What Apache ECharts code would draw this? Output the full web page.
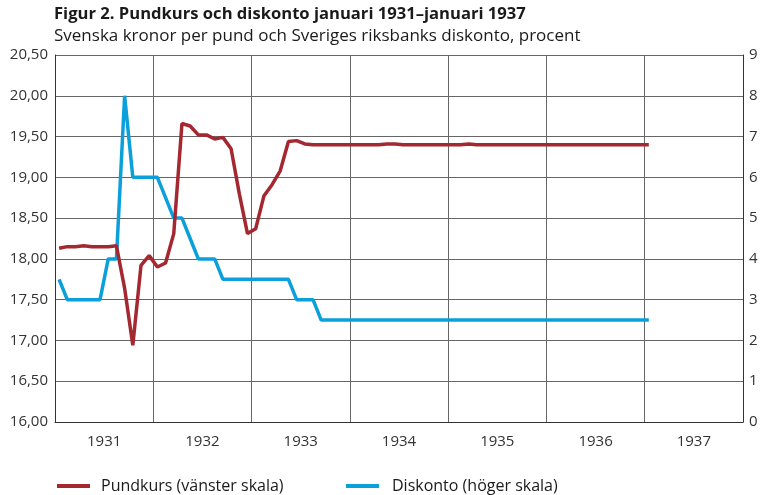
<!DOCTYPE html>
<html>
<head>
<meta charset="utf-8">
<script src="https://cdn.jsdelivr.net/npm/echarts@6/dist/echarts.min.js"></script>
<style>
html,body{margin:0;padding:0;background:#fff;}
#c{width:761px;height:495px;}
</style>
</head>
<body>
<div id="c"></div>
<script>
var years = ['1931','1932','1933','1934','1935','1936','1937'];
var leftTicks = [16.0,16.5,17.0,17.5,18.0,18.5,19.0,19.5,20.0,20.5];
var rightTicks = [0,1,2,3,4,5,6,7,8,9];
// Monthly values, January 1931 – January 1937
var pundkurs = [
  18.13,18.15,18.15,18.16,18.15,18.15,18.15,18.16,17.64,16.94,17.92,18.04,
  17.90,17.95,18.31,19.66,19.63,19.52,19.52,19.47,19.49,19.35,18.80,18.31,
  18.37,18.77,18.91,19.08,19.44,19.45,19.41,19.40,19.40,19.40,19.40,19.40,
  19.40,19.40,19.40,19.40,19.41,19.41,19.40,19.40,19.40,19.40,19.40,19.40,
  19.40,19.40,19.41,19.40,19.40,19.40,19.40,19.40,19.40,19.40,19.40,19.40,
  19.40,19.40,19.40,19.40,19.40,19.40,19.40,19.40,19.40,19.40,19.40,19.40,
  19.40
];
var diskonto = [
  3.5,3.0,3.0,3.0,3.0,3.0,4.0,4.0,8.0,6.0,6.0,6.0,
  6.0,5.5,5.0,5.0,4.5,4.0,4.0,4.0,3.5,3.5,3.5,3.5,
  3.5,3.5,3.5,3.5,3.5,3.0,3.0,3.0,2.5,2.5,2.5,2.5,
  2.5,2.5,2.5,2.5,2.5,2.5,2.5,2.5,2.5,2.5,2.5,2.5,
  2.5,2.5,2.5,2.5,2.5,2.5,2.5,2.5,2.5,2.5,2.5,2.5,
  2.5,2.5,2.5,2.5,2.5,2.5,2.5,2.5,2.5,2.5,2.5,2.5,
  2.5
];
var title = 'Figur 2. Pundkurs och diskonto januari 1931–januari 1937';
var subtitle = 'Svenska kronor per pund och Sveriges riksbanks diskonto, procent';
var nameP = 'Pundkurs (vänster skala)';
var nameD = 'Diskonto (höger skala)';

var RED = '#A4282F', BLUE = '#0BA0DA';
var FONT = '"Open Sans", sans-serif';
function toXY(arr){ return arr.map(function(v,i){ return [i+0.5, v]; }); }

var chart = echarts.init(document.getElementById('c'), null, {renderer:'canvas'});
chart.setOption({
  animation:false,
  backgroundColor:'#fff',
  textStyle:{fontFamily:FONT},
  title:[
    {text:title, left:54, top:6, padding:0, textStyle:{fontFamily:FONT,fontSize:16.6,fontWeight:'bold',color:'#1a1a1a'}},
    {text:subtitle, left:54, top:28, padding:0, textStyle:{fontFamily:FONT,fontSize:17,fontWeight:'normal',color:'#1a1a1a'}}
  ],
  legend:[
    {data:[{name:nameP, icon:'rect'}], left:57, top:478, itemWidth:33, itemHeight:4, padding:0,
     textStyle:{fontFamily:FONT,fontSize:16,color:'#1a1a1a',padding:[0,0,0,6]}},
    {data:[{name:nameD, icon:'rect'}], left:346, top:478, itemWidth:33, itemHeight:4, padding:0,
     textStyle:{fontFamily:FONT,fontSize:16,color:'#1a1a1a',padding:[0,0,0,8]}}
  ],
  grid:{left:55, right:18, top:55, bottom:73, containLabel:false},
  xAxis:[
    {type:'category', data:years, boundaryGap:true, position:'bottom',
     axisLine:{show:true,lineStyle:{color:'#333',width:1}},
     axisTick:{show:false},
     axisLabel:{fontFamily:FONT,fontSize:15,color:'#333',margin:12},
     splitLine:{show:true,lineStyle:{color:'#666',width:1}}},
    {type:'value', min:0, max:84, show:false}
  ],
  yAxis:[
    {type:'value', min:leftTicks[0], max:leftTicks[leftTicks.length-1], interval:0.5, position:'left',
     axisLine:{show:true,lineStyle:{color:'#333'}}, axisTick:{show:false},
     axisLabel:{fontFamily:FONT,fontSize:15,color:'#333',margin:7,
       formatter:function(v){return v.toFixed(2).replace('.',',');}},
     splitLine:{show:true,lineStyle:{color:'#666',width:1}}},
    {type:'value', min:rightTicks[0], max:rightTicks[rightTicks.length-1], interval:1, position:'right',
     axisLine:{show:true,lineStyle:{color:'#333'}}, axisTick:{show:false},
     axisLabel:{fontFamily:FONT,fontSize:15,color:'#333',margin:6},
     splitLine:{show:false}}
  ],
  series:[
    {name:nameD, type:'line', xAxisIndex:1, yAxisIndex:1, data:toXY(diskonto),
     showSymbol:false, symbol:'none', itemStyle:{color:BLUE}, lineStyle:{color:BLUE,width:3.5}},
    {name:nameP, type:'line', xAxisIndex:1, yAxisIndex:0, data:toXY(pundkurs),
     showSymbol:false, symbol:'none', itemStyle:{color:RED}, lineStyle:{color:RED,width:3.5}}
  ]
});
</script>
</body>
</html>
